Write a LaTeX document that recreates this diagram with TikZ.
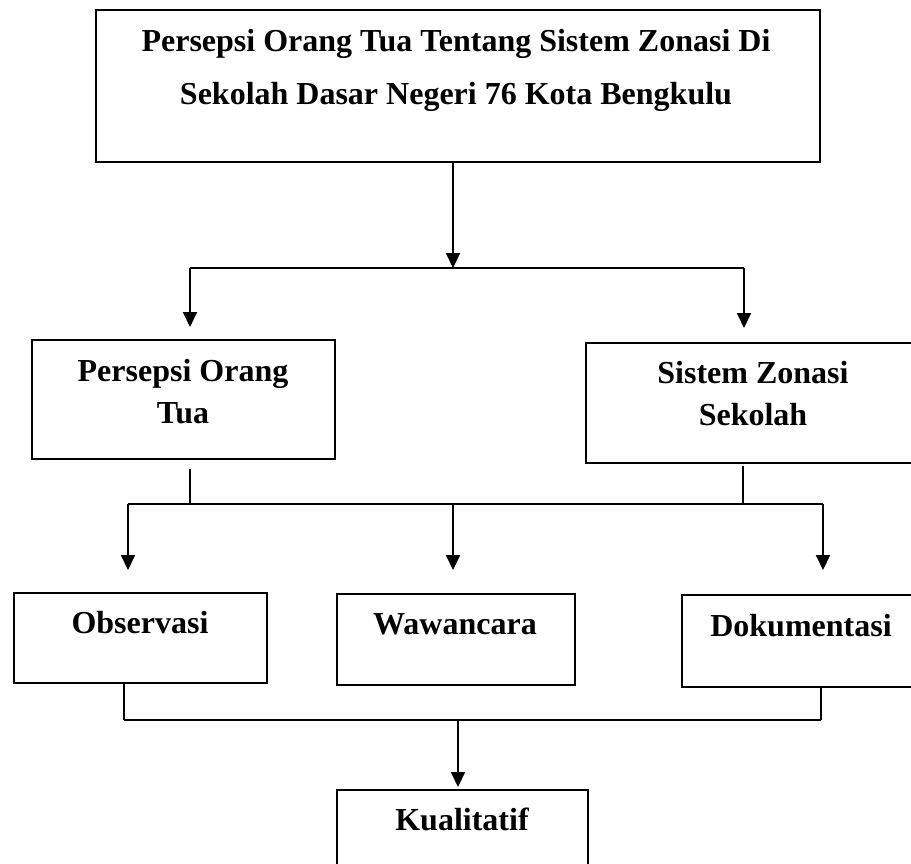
\documentclass[tikz,border=0pt]{standalone}
\usepackage{fontspec}
\setmainfont{Liberation Serif}
\usetikzlibrary{arrows.meta}
\begin{document}
\begin{tikzpicture}[x=1pt,y=-1pt,
  box/.style={draw, line width=2pt, inner sep=0pt, anchor=north west},
  txt/.style={font=\bfseries\fontsize{32}{42}\selectfont, align=center, inner sep=0pt},
  link/.style={line width=2pt},
  arr/.style={line width=2pt, -{Triangle[length=15pt,width=14pt]}}]
\clip (0,0) rectangle (911,863);
\useasboundingbox (0,0) rectangle (911,863);
% boxes
\node[box, minimum width=724pt, minimum height=152pt] (top) at (95,9) {};
\node[box, minimum width=303pt, minimum height=119pt] (po) at (31,339) {};
\node[box, minimum width=345pt, minimum height=120pt] (sz) at (585,342) {};
\node[box, minimum width=253pt, minimum height=90pt] (obs) at (13,592) {};
\node[box, minimum width=238pt, minimum height=91pt] (waw) at (336,593) {};
\node[box, minimum width=249pt, minimum height=92pt] (dok) at (681,594) {};
\node[box, minimum width=251pt, minimum height=120pt] (kual) at (336,789) {};
% texts
\node[txt] (toptext) at (456,70) {Persepsi Orang Tua Tentang Sistem Zonasi Di\\[11pt]Sekolah Dasar Negeri 76 Kota Bengkulu};
\node[txt] (potext) at (183,392) {Persepsi Orang\\Tua};
\node[txt] (sztext) at (753,393.5) {Sistem Zonasi\\Sekolah};
\node[txt] (obstext) at (140,623) {Observasi};
\node[txt] (wawtext) at (455,624) {Wawancara};
\node[txt] (doktext) at (801,626) {Dokumentasi};
\node[txt] (kualtext) at (462,819) {Kualitatif};
% junction coordinates
\coordinate (b1) at (453,268);
\coordinate (b1l) at (190,268);
\coordinate (b1r) at (744,268);
\coordinate (j1) at (190,504);
\coordinate (j2) at (743,504);
\coordinate (b2l) at (128,504);
\coordinate (b2m) at (453,504);
\coordinate (b2r) at (823,504);
\coordinate (b3l) at (124,720);
\coordinate (b3m) at (458,720);
\coordinate (b3r) at (821,720);
% connectors
\draw[arr] (top.south -| b1) -- (b1);
\draw[link] (b1l) -- (b1r);
\draw[arr, shorten >=12pt] (b1l) -- (po.north -| b1l);
\draw[arr, shorten >=14pt] (b1r) -- (sz.north -| b1r);
\draw[link, shorten <=9pt] (po.south -| j1) -- (j1);
\draw[link, shorten <=2pt] (sz.south -| j2) -- (j2);
\draw[link] (b2l) -- (b2r);
\draw[arr, shorten >=22pt] (b2l) -- (obs.north -| b2l);
\draw[arr, shorten >=23pt] (b2m) -- (waw.north -| b2m);
\draw[arr, shorten >=24pt] (b2r) -- (dok.north -| b2r);
\draw[link] (obs.south -| b3l) -- (b3l);
\draw[link] (dok.south -| b3r) -- (b3r);
\draw[link] (b3l) -- (b3r);
\draw[arr, shorten >=2pt] (b3m) -- (kual.north -| b3m);
\end{tikzpicture}
\end{document}
